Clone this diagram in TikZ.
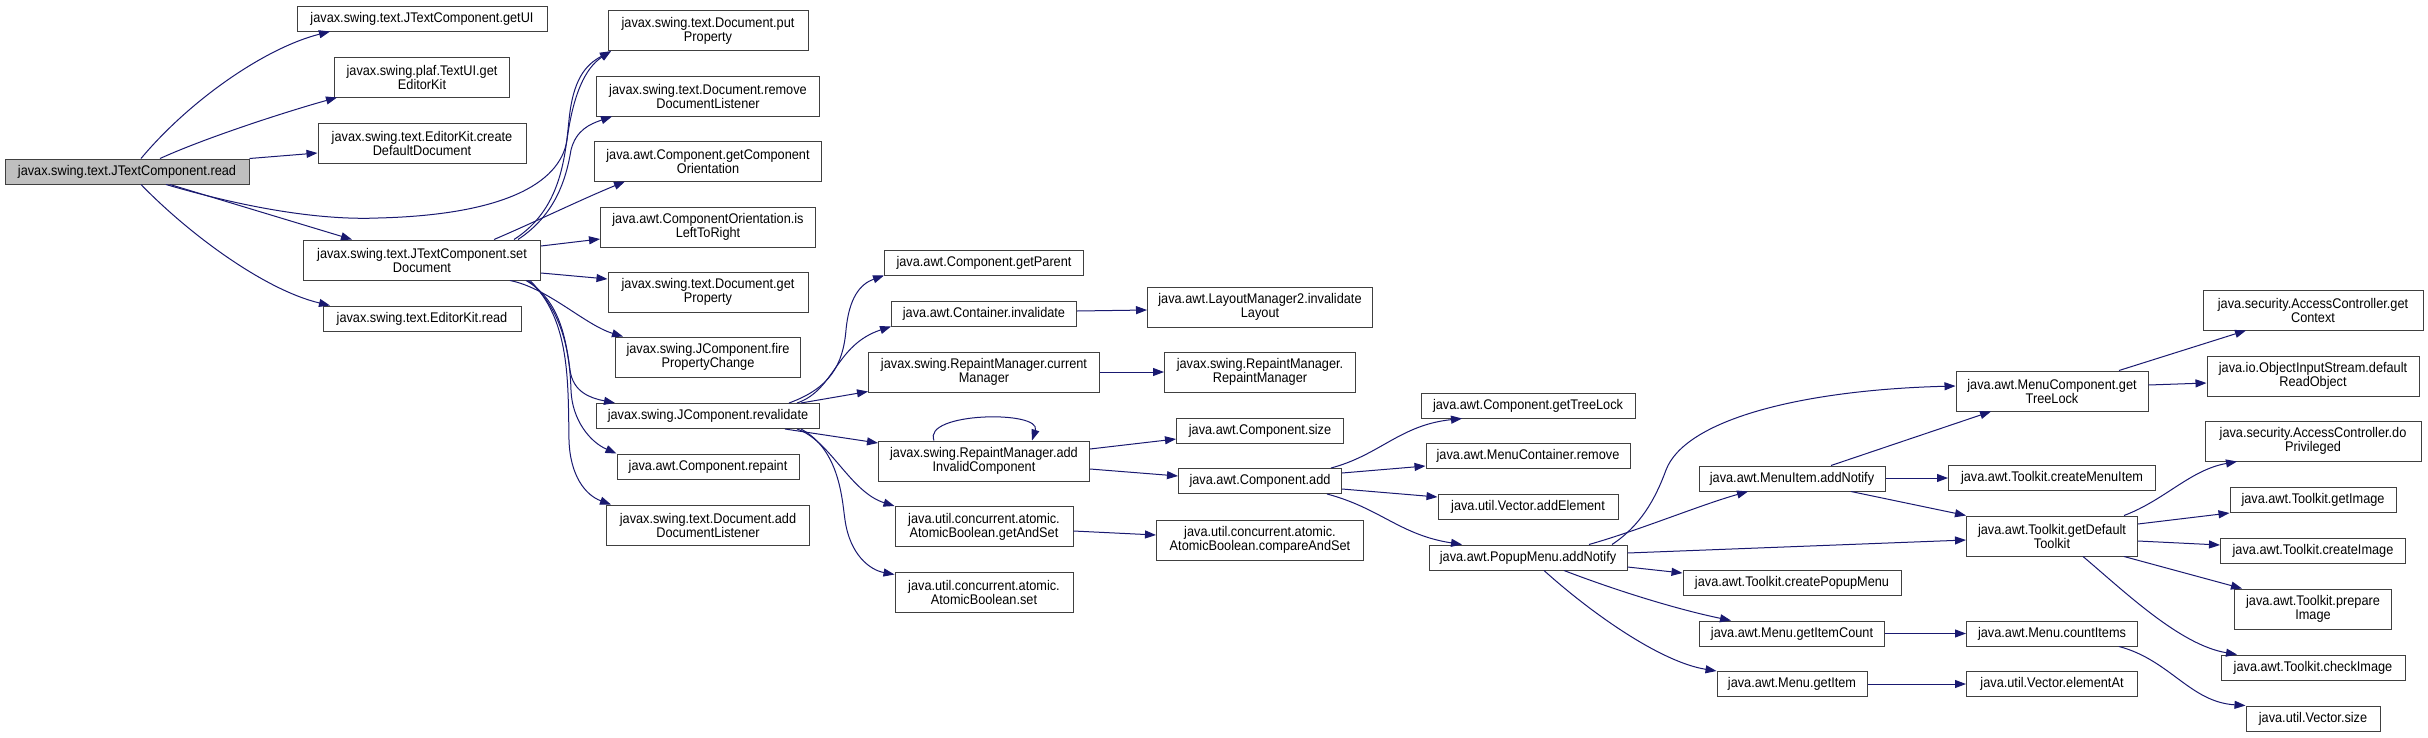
\documentclass[tikz,border=0pt]{standalone}
\usepackage{fontspec}
\setmainfont[FakeStretch=0.91]{Liberation Sans}
\usetikzlibrary{arrows.meta}
\definecolor{edgeblue}{HTML}{191970}
\definecolor{boxgray}{HTML}{404040}
\definecolor{rootgray}{HTML}{BFBFBF}

\begin{document}
\begin{tikzpicture}[
    x=1pt, y=-1pt,
    >={Triangle[length=11pt, width=8pt]},
    fn/.style={draw=boxgray, line width=1pt, fill=white, inner sep=0pt, align=center, font=\fontsize{14}{14}\selectfont, minimum height=25pt},
    fn2/.style={fn, minimum height=40pt},
    call/.style={draw=edgeblue, line width=1pt, ->}
]

\path[use as bounding box, fill=white] (0,0) rectangle (2428,737);

% caller
\node[fn, fill=rootgray, minimum width=244pt] (read) at (127,171.5) {javax.swing.text.JTextComponent.read};

% first level
\node[fn, minimum width=250pt] (getui) at (422,18.5) {javax.swing.text.JTextComponent.getUI};
\node[fn2, minimum width=175pt] (getkit) at (422,77) {javax.swing.plaf.TextUI.get\\EditorKit};
\node[fn2, minimum width=208pt] (createdoc) at (422,143) {javax.swing.text.EditorKit.create\\DefaultDocument};
\node[fn2, minimum width=237pt] (setdoc) at (422,260) {javax.swing.text.JTextComponent.set\\Document};
\node[fn, minimum width=198pt] (kitread) at (422,318.5) {javax.swing.text.EditorKit.read};

% second level
\node[fn2, minimum width=200pt] (putprop) at (708,30.7) {javax.swing.text.Document.put\\Property};
\node[fn2, minimum width=223pt] (removel) at (708,96) {javax.swing.text.Document.remove\\DocumentListener};
\node[fn2, minimum width=227pt] (getorient) at (708,161) {java.awt.Component.getComponent\\Orientation};
\node[fn2, minimum width=215pt] (ltr) at (708,227) {java.awt.ComponentOrientation.is\\LeftToRight};
\node[fn2, minimum width=200pt] (getprop) at (708,292) {javax.swing.text.Document.get\\Property};
\node[fn2, minimum width=185pt] (fire) at (708,357) {javax.swing.JComponent.fire\\PropertyChange};
\node[fn, minimum width=223pt] (reval) at (708,416) {javax.swing.JComponent.revalidate};
\node[fn, minimum width=182pt] (repaint) at (708,466.5) {java.awt.Component.repaint};
\node[fn2, minimum width=203pt] (addl) at (708,525) {javax.swing.text.Document.add\\DocumentListener};

% third level
\node[fn, minimum width=199pt] (getparent) at (984,262.5) {java.awt.Component.getParent};
\node[fn, minimum width=185pt] (cinval) at (984,313.5) {java.awt.Container.invalidate};
\node[fn2, minimum width=231pt] (curmgr) at (984,372) {javax.swing.RepaintManager.current\\Manager};
\node[fn2, minimum width=211pt] (addinv) at (984,461) {javax.swing.RepaintManager.add\\InvalidComponent};
\node[fn2, minimum width=178pt] (getandset) at (984,526.5) {java.util.concurrent.atomic.\\AtomicBoolean.getAndSet};
\node[fn2, minimum width=178pt] (abset) at (984,592) {java.util.concurrent.atomic.\\AtomicBoolean.set};

% fourth level
\node[fn2, minimum width=225pt] (layout) at (1260,307) {java.awt.LayoutManager2.invalidate\\Layout};
\node[fn2, minimum width=191pt] (rmctor) at (1260,372) {javax.swing.RepaintManager.\\RepaintManager};
\node[fn, minimum width=167pt] (csize) at (1260,430.5) {java.awt.Component.size};
\node[fn, minimum width=163pt] (cadd) at (1260,481) {java.awt.Component.add};
\node[fn2, minimum width=207pt] (cas) at (1260,540) {java.util.concurrent.atomic.\\AtomicBoolean.compareAndSet};

% fifth level
\node[fn, minimum width=214pt] (treelock) at (1528,405.5) {java.awt.Component.getTreeLock};
\node[fn, minimum width=204pt] (mcremove) at (1528,456) {java.awt.MenuContainer.remove};
\node[fn, minimum width=180pt] (addelem) at (1528,506.5) {java.util.Vector.addElement};
\node[fn, minimum width=198pt] (popup) at (1528,557.5) {java.awt.PopupMenu.addNotify};

% sixth level
\node[fn, minimum width=186pt] (miadd) at (1792,478.5) {java.awt.MenuItem.addNotify};
\node[fn, minimum width=218pt] (cpopup) at (1792,582.5) {java.awt.Toolkit.createPopupMenu};
\node[fn, minimum width=185pt] (itemcount) at (1792,633.5) {java.awt.Menu.getItemCount};
\node[fn, minimum width=150pt] (getitem) at (1792,684) {java.awt.Menu.getItem};

% seventh level
\node[fn2, minimum width=192pt] (mctree) at (2052,391) {java.awt.MenuComponent.get\\TreeLock};
\node[fn, minimum width=207pt] (cmitem) at (2052,477.5) {java.awt.Toolkit.createMenuItem};
\node[fn2, minimum width=171pt] (deftk) at (2052,536) {java.awt.Toolkit.getDefault\\Toolkit};
\node[fn, minimum width=171pt] (count) at (2052,633.5) {java.awt.Menu.countItems};
\node[fn, minimum width=171pt] (elemat) at (2052,684) {java.util.Vector.elementAt};

% eighth level
\node[fn2, minimum width=220pt] (getctx) at (2313,310) {java.security.AccessController.get\\Context};
\node[fn2, minimum width=212pt] (readobj) at (2313,376) {java.io.ObjectInputStream.default\\ReadObject};
\node[fn2, minimum width=216pt] (doprivi) at (2313,441) {java.security.AccessController.do\\Privileged};
\node[fn, minimum width=166pt] (getimg) at (2313,499.5) {java.awt.Toolkit.getImage};
\node[fn, minimum width=185pt] (crimg) at (2313,550.5) {java.awt.Toolkit.createImage};
\node[fn2, minimum width=157pt] (prepimg) at (2313,609) {java.awt.Toolkit.prepare\\Image};
\node[fn, minimum width=184pt] (chkimg) at (2313,667.5) {java.awt.Toolkit.checkImage};
\node[fn, minimum width=134pt] (vsize) at (2313,718.5) {java.util.Vector.size};

% calls from read
\draw[call] (read.north -| 141,0) .. controls (190,100) and (265,48) .. (getui.south -| 330,0);
\draw[call] (read.north -| 160,0) .. controls (205,138) and (285,112) .. (getkit.south -| 337,0);
\draw[call] (read.north east) -- (createdoc.west |- 0,153);
\draw[call] (read.south -| 166,0) .. controls (260,212) and (330,220) .. (378,218) .. controls (500,215) and (560,185) .. (567,140) .. controls (573,95) and (585,68) .. (putprop.south -| 611,0);
\draw[call] (read.south -| 170,0) -- (setdoc.north -| 352,0);
\draw[call] (read.south -| 141,0) .. controls (190,235) and (265,290) .. (kitread.north -| 330,0);

% calls from setDocument
\draw[call] (setdoc.north -| 514,0) .. controls (560,210) and (565,160) .. (569,120) .. controls (573,80) and (585,65) .. (putprop.south -| 611,0);
\draw[call] (setdoc.north -| 518,0) .. controls (555,215) and (566,180) .. (571,150) .. controls (576,130) and (590,124) .. (removel.south -| 612,0);
\draw[call] (setdoc.north -| 494,0) .. controls (535,222) and (580,200) .. (getorient.south -| 625,0);
\draw[call] (setdoc.east |- 0,246) -- (ltr.west |- 0,239);
\draw[call] (setdoc.east |- 0,273) -- (getprop.west |- 0,279);
\draw[call] (setdoc.south -| 510,0) .. controls (548,288) and (585,325) .. (fire.north -| 623,0);
\draw[call] (setdoc.south -| 526,0) .. controls (560,300) and (566,340) .. (570,370) .. controls (573,392) and (590,398) .. (reval.north -| 615,0);
\draw[call] (setdoc.south -| 528,0) .. controls (565,310) and (570,360) .. (571,390) .. controls (572,420) and (590,442) .. (repaint.north west);
\draw[call] (setdoc.south -| 530,0) .. controls (570,320) and (568,380) .. (569,440) .. controls (570,475) and (585,495) .. (addl.north -| 611,0);

% calls from revalidate
\draw[call] (reval.north -| 789,0) .. controls (830,388) and (843,365) .. (846,330) .. controls (849,298) and (860,284) .. (getparent.south west);
\draw[call] (reval.north -| 797,0) .. controls (835,390) and (835,345) .. (cinval.south west);
\draw[call] (reval.north -| 801,0) -- ([yshift=1pt]curmgr.south west);
\draw[call] (reval.south -| 785,0) -- (addinv.west |- 0,443);
\draw[call] (reval.south -| 797,0) .. controls (830,440) and (850,492) .. (getandset.north west);
\draw[call] (reval.south -| 801,0) .. controls (840,450) and (842,500) .. (845,520) .. controls (850,555) and (870,570) .. ([yshift=-3pt]abset.north west);

% third level calls
\draw[call] (cinval.east |- 0,311) -- (layout.west |- 0,310);
\draw[call] (curmgr) -- (rmctor);
\draw[call] (addinv.north -| 934,0) .. controls (922,412) and (1042,410) .. (addinv.north -| 1032,0);
\draw[call] (addinv.east |- 0,449) -- (csize.west |- 0,439);
\draw[call] (addinv.east |- 0,469) -- (cadd.west |- 0,476);
\draw[call] (getandset.east |- 0,531) -- (cas.west |- 0,535);

% calls from Component.add
\draw[call] (cadd.north -| 1331,0) .. controls (1380,455) and (1400,425) .. (treelock.south -| 1462,0);
\draw[call] (cadd.east |- 0,473) -- (mcremove.west |- 0,466);
\draw[call] (cadd.east |- 0,489) -- (addelem.west |- 0,497);
\draw[call] (cadd.south -| 1327,0) .. controls (1380,508) and (1400,535) .. (popup.north -| 1462,0);

% calls from PopupMenu.addNotify
\draw[call] (popup.north -| 1612,0) .. controls (1640,526) and (1655,500) .. (1666,470) .. controls (1685,420) and (1800,390) .. (mctree.west |- 0,386);
\draw[call] (popup.north -| 1589,0) .. controls (1640,530) and (1700,505) .. (miadd.south -| 1748,0);
\draw[call] (popup.east |- 0,553) -- (deftk.west |- 0,540);
\draw[call] (popup.east |- 0,567) -- (cpopup.west |- 0,573);
\draw[call] (popup.south -| 1564,0) .. controls (1620,592) and (1680,610) .. (itemcount.north -| 1731,0);
\draw[call] (popup.south -| 1544,0) .. controls (1590,612) and (1660,662) .. (getitem.north west);

% sixth level calls
\draw[call] (miadd.north -| 1831,0) -- (mctree.south -| 1991,0);
\draw[call] (miadd.east |- 0,478) -- (cmitem.west |- 0,478);
\draw[call] (miadd.south -| 1851,0) -- (deftk.north west);
\draw[call] (itemcount) -- (count);
\draw[call] (getitem) -- (elemat);

% seventh level calls
\draw[call] (mctree.north -| 2119,0) -- (getctx.south -| 2246,0);
\draw[call] (mctree.east |- 0,385) -- (readobj.west |- 0,383);
\draw[call] (deftk.north -| 2124,0) .. controls (2165,500) and (2190,470) .. (doprivi.south -| 2237,0);
\draw[call] (deftk.east |- 0,524) -- (getimg.west |- 0,513);
\draw[call] (deftk.east |- 0,541) -- (crimg.west |- 0,545);
\draw[call] (deftk.south -| 2124,0) -- (prepimg.north -| 2242,0);
\draw[call] (deftk.south -| 2083,0) .. controls (2125,592) and (2180,645) .. (chkimg.north -| 2237,0);
\draw[call] (count.south -| 2119,0) .. controls (2170,660) and (2190,702) .. (vsize.north west);

\end{tikzpicture}
\end{document}
